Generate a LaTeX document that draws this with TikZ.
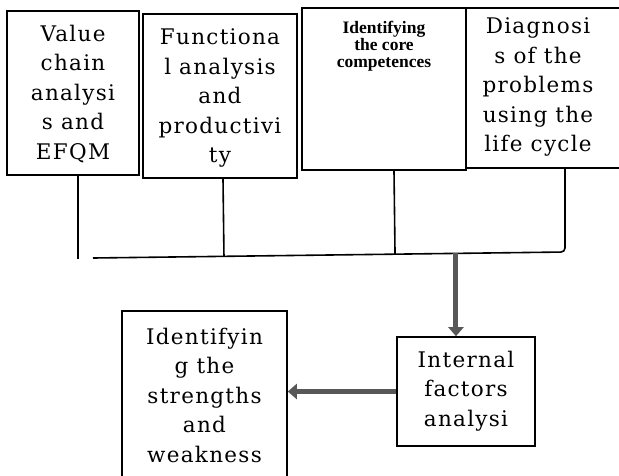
\documentclass[tikz,border=0pt]{standalone}
\usepackage{fontspec}
\setmainfont[LetterSpace=6]{DejaVu Serif}
\newfontfamily\smallserif{Liberation Serif}
\usetikzlibrary{arrows.meta,calc}
\definecolor{arrowgray}{RGB}{88,88,88}
\tikzset{
  box/.style={draw=black, line width=1.6pt, inner sep=0pt},
  txt/.style={align=center, inner sep=0pt, font=\fontsize{21.5}{29.5}\selectfont},
  smalltxt/.style={align=center, inner sep=0pt, font=\smallserif\bfseries\fontsize{17.5}{17}\selectfont},
  link/.style={draw=black, line width=1.6pt},
  bigarrow/.style={draw=arrowgray, line width=5pt, arrowgray,
    -{Triangle[length=9pt,width=15pt]}}
}
\begin{document}
\begin{tikzpicture}[x=1pt,y=-1pt]
\useasboundingbox (0,0) rectangle (619,475);
\clip (0,0) rectangle (619,475);

% upper row of boxes
\node[box, minimum width=132pt, minimum height=164pt] (b1) at (73,93) {};
\node[box, minimum width=154pt, minimum height=164pt] (b2) at (220,96) {};
\node[box, minimum width=164pt, minimum height=162pt] (b3) at (384,89) {};
\node[box, minimum width=164pt, minimum height=160pt] (b4) at (548,88) {};

\node[txt] (t1) at (73,94) {Value\\chain\\analysi\\s and\\EFQM};
\node[txt] (t2) at (220,98) {Functiona\\l analysis\\and\\productivi\\ty};
\node[smalltxt, anchor=north] (t3) at (384,21) {Identifying\\the core\\competences};
\node[txt] (t4) at (538,87) {Diagnosi\\s of the\\problems\\using the\\life cycle};

% lower boxes
\node[box, minimum width=138pt, minimum height=109pt] (int) at (466,391.5) {};
\node[txt] (tint) at (466,391) {Internal\\factors\\analysi};
\node[box, minimum width=165pt, minimum height=179pt] (str) at (204.5,400.5) {};
\node[txt] (tstr) at (204.5,395) {Identifyin\\g the\\strengths\\and\\weakness};

% collecting line under the upper row
\coordinate (hl) at (93,258);
\coordinate (hr) at (565,252);
\coordinate (c1) at ($(b1.south)+(5,0)$);
\coordinate (c2) at ($(b2.south)+(3,0)$);
\coordinate (c3) at ($(b3.south)+(10,0)$);
\draw[link] (c1) -- ++(0,83);
\draw[link] (c2) -- ($(hl)!(c2)!(hr)$);
\draw[link] (c3) -- ($(hl)!(c3)!(hr)$);
\draw[link, rounded corners=4pt] (hl) -- (hr) -- (hr |- b4.south);

% arrows
\coordinate (ta) at ($(hl)!0.769!(hr)$);
\draw[bigarrow] (ta) -- (ta |- int.north);
\draw[bigarrow] (int.west) -- (str.east |- int.west);
\end{tikzpicture}
\end{document}
